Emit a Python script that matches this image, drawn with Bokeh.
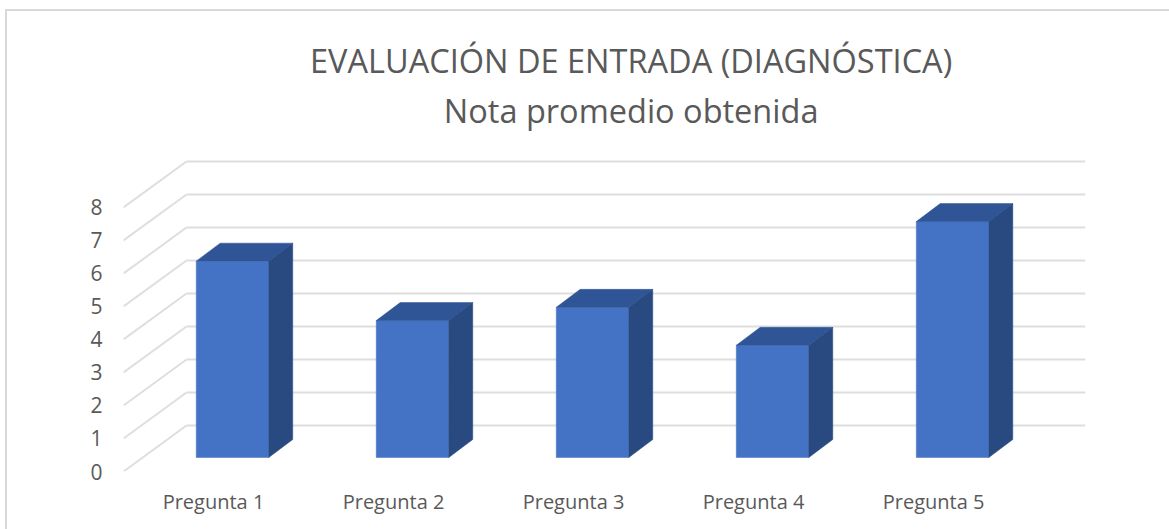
from bokeh.plotting import figure
from bokeh.models import Label, FixedTicker, Range1d
from bokeh.embed import file_html
from bokeh.resources import INLINE

categories = ["Pregunta 1", "Pregunta 2", "Pregunta 3", "Pregunta 4", "Pregunta 5"]
values = [5.95, 4.15, 4.55, 3.4, 7.15]
value_ticks = [0, 1, 2, 3, 4, 5, 6, 7, 8]
title_lines = ["EVALUACIÓN DE ENTRADA (DIAGNÓSTICA)", "Nota promedio obtenida"]

FONT = "Open Sans"
TEXT = "#595959"
GRID = "#dedede"

X0, X1 = -0.5, 4.844
Y0, Y1 = 0, 13.939
WALL_DX, WALL_DY = 0.35, 1.394     # depth of the floor
BAR_SHIFT_X, BAR_SHIFT_Y = 0.1056, 0.424
BAR_W = 0.403
BAR_DX, BAR_DY = 0.133, 0.545
TITLE_X = 2.32
TITLE_Y = (12.45, 10.94)

p = figure(width=1162, height=518, output_backend="svg", toolbar_location=None,
           x_range=Range1d(X0, X1), y_range=Range1d(Y0, Y1),
           min_border_left=116, min_border_right=86, min_border_top=0, min_border_bottom=60,
           background_fill_color="white", border_fill_color="white",
           outline_line_color=None,
           styles={"position": "absolute", "left": "5px", "top": "9px",
                   "border-left": "2px solid #d9d9d9", "border-top": "2px solid #d9d9d9",
                   "box-sizing": "content-box"})
p.grid.visible = False

# walls: side grid and back grid
bx = X0 + WALL_DX
p.segment([X0] * len(value_ticks), value_ticks, [bx] * len(value_ticks),
          [v + WALL_DY for v in value_ticks], line_color=GRID, line_width=2)
p.segment([bx] * len(value_ticks), [v + WALL_DY for v in value_ticks],
          [X1] * len(value_ticks), [v + WALL_DY for v in value_ticks],
          line_color=GRID, line_width=2)

# bars
lefts = [i + BAR_SHIFT_X - BAR_W / 2 for i in range(len(values))]
rights = [l + BAR_W for l in lefts]
base = BAR_SHIFT_Y
tops = [base + v for v in values]
p.quad(left=lefts, right=rights, bottom=[base] * len(values), top=tops,
       fill_color="#4472c4", line_color="#4472c4", line_width=0.5)
p.patches([[l, l + BAR_DX, r + BAR_DX, r] for l, r in zip(lefts, rights)],
          [[t, t + BAR_DY, t + BAR_DY, t] for t in tops],
          fill_color="#2f5597", line_color="#2f5597", line_width=0.5)
p.patches([[r, r + BAR_DX, r + BAR_DX, r] for r in rights],
          [[base, base + BAR_DY, t + BAR_DY, t] for t in tops],
          fill_color="#294a80", line_color="#294a80", line_width=0.5)

# axes
p.xaxis.ticker = FixedTicker(ticks=list(range(len(categories))))
p.xaxis.major_label_overrides = {i: c for i, c in enumerate(categories)}
p.yaxis.ticker = FixedTicker(ticks=value_ticks)
for ax in (p.xaxis[0], p.yaxis[0]):
    ax.axis_line_color = None
    ax.major_tick_line_color = None
    ax.minor_tick_line_color = None
    ax.major_label_text_font = FONT
    ax.major_label_text_color = TEXT
p.yaxis.major_label_text_font_size = "21px"
p.yaxis.major_label_standoff = 15
p.xaxis.major_label_text_font_size = "20px"
p.xaxis.major_label_standoff = 10

# titles
for line, y in zip(title_lines, TITLE_Y):
    p.add_layout(Label(x=TITLE_X, y=y, text=line,
                       text_align="center", text_baseline="middle", text_font=FONT,
                       text_font_size="32.5px", text_color=TEXT))

open("out.html", "w").write(file_html(p, INLINE))
